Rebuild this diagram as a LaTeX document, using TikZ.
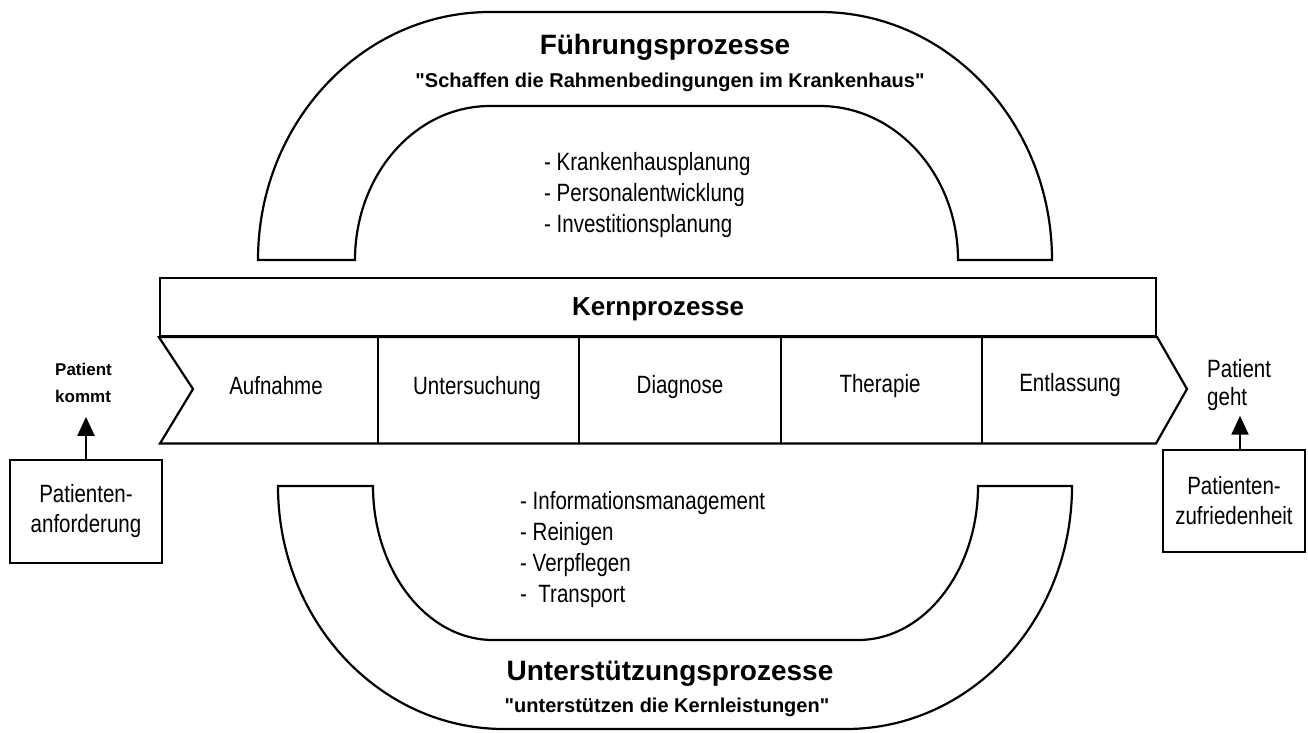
\documentclass[tikz,border=0pt]{standalone}
\usepackage{fontspec}
\setmainfont{Liberation Sans}[Ligatures=TeXOff]
\newfontfamily\narrowsans{Liberation Sans}[FakeStretch=0.82, Ligatures=TeXOff]
\usetikzlibrary{arrows.meta}

\begin{document}
\begin{tikzpicture}[x=1pt, y=-1pt,
  outline/.style={draw=black, line width=2.2pt, line join=miter},
  titletext/.style={font=\fontsize{28}{32}\selectfont\bfseries, anchor=base, inner sep=0pt},
  mottotext/.style={font=\fontsize{20}{24}\selectfont\bfseries, anchor=base, inner sep=0pt},
  steplabel/.style={font=\narrowsans\fontsize{25}{30}\selectfont, anchor=base, inner sep=0pt},
  itemlist/.style={font=\narrowsans\fontsize{25}{31}\selectfont, align=left, anchor=north west, inner sep=0pt},
  sidebox/.style={outline, align=center, font=\narrowsans\fontsize{25}{30}\selectfont, inner sep=0pt},
  flowarrow/.style={line width=2.2pt, -{Triangle[width=17pt,length=19pt]}}
]
\fill[white] (0,0) rectangle (1308,732);
\useasboundingbox (0,0) rectangle (1308,732);

% management processes: arch above the core band
\draw[outline] (258,260) .. controls (258,123) and (362,12) .. (490,12)
  -- (820,12) .. controls (948,12) and (1052,123) .. (1052,260)
  -- (958,260) .. controls (958,175) and (896,106) .. (820,106)
  -- (490,106) .. controls (415,106) and (355,175) .. (355,260) -- cycle;
\node[titletext] (fuehr) at (665,54) {Führungsprozesse};
\node[mottotext] (fuehrmotto) at (670,87)
  {"Schaffen die Rahmenbedingungen im Krankenhaus"};
\node[itemlist] (fuehrlist) at (544,152)
  {- Krankenhausplanung\\- Personalentwicklung\\- Investitionsplanung};

% core processes: header bar and chevron band
\node[outline, minimum width=996pt, minimum height=58pt, text depth=0pt,
  font=\fontsize{26}{30}\selectfont\bfseries] (kern) at (658,307) {Kernprozesse};
\draw[outline] (kern.south west) -- (kern.south east) -- (1187,389)
  -- (1156,443.5) -- (160,443.5) -- (193,389) -- cycle;
\foreach \xd in {378,579,781,982}
  \draw[outline] (\xd,336) -- (\xd,443.5);
\node[steplabel] (aufnahme) at (276,394) {Aufnahme};
\node[steplabel] (untersuchung) at (477,394) {Untersuchung};
\node[steplabel] (diagnose) at (680,393) {Diagnose};
\node[steplabel] (therapie) at (880,392) {Therapie};
\node[steplabel] (entlassung) at (1070,391) {Entlassung};

% support processes: U below the core band
\draw[outline] (278,486) .. controls (278,620) and (379,729) .. (504,729)
  -- (846,729) .. controls (971,729) and (1072,620) .. (1072,486)
  -- (978,486) .. controls (978,571) and (924,640) .. (858,640)
  -- (493,640) .. controls (427,640) and (373,571) .. (373,486) -- cycle;
\node[itemlist] (unterlist) at (520,491)
  {- Informationsmanagement\\- Reinigen\\- Verpflegen\\-\ \ Transport};
\node[titletext] (unter) at (670,680) {Unterstützungsprozesse};
\node[mottotext] (untermotto) at (667,712)
  {"unterstützen die Kernleistungen"};

% patient entry and exit
\node[font=\fontsize{17}{27}\selectfont\bfseries, align=left, anchor=north west,
  inner sep=0pt] (kommt) at (55,363) {Patient\\kommt};
\node[sidebox, minimum width=152pt, minimum height=103pt] (anf) at (86,511.5)
  {Patienten-\\anforderung};
\draw[flowarrow, shorten >=14pt] (anf.north) -- (anf.north |- kommt.south);

\node[font=\narrowsans\fontsize{25}{28}\selectfont, align=left, anchor=north west,
  inner sep=0pt] (geht) at (1207,359) {Patient\\geht};
\node[sidebox, minimum width=142pt, minimum height=102pt] (zuf) at (1234,501)
  {Patienten-\\zufriedenheit};
\draw[flowarrow, shorten >=5pt] ([xshift=6pt]zuf.north) -- ([xshift=6pt]zuf.north |- geht.south);
\end{tikzpicture}
\end{document}
